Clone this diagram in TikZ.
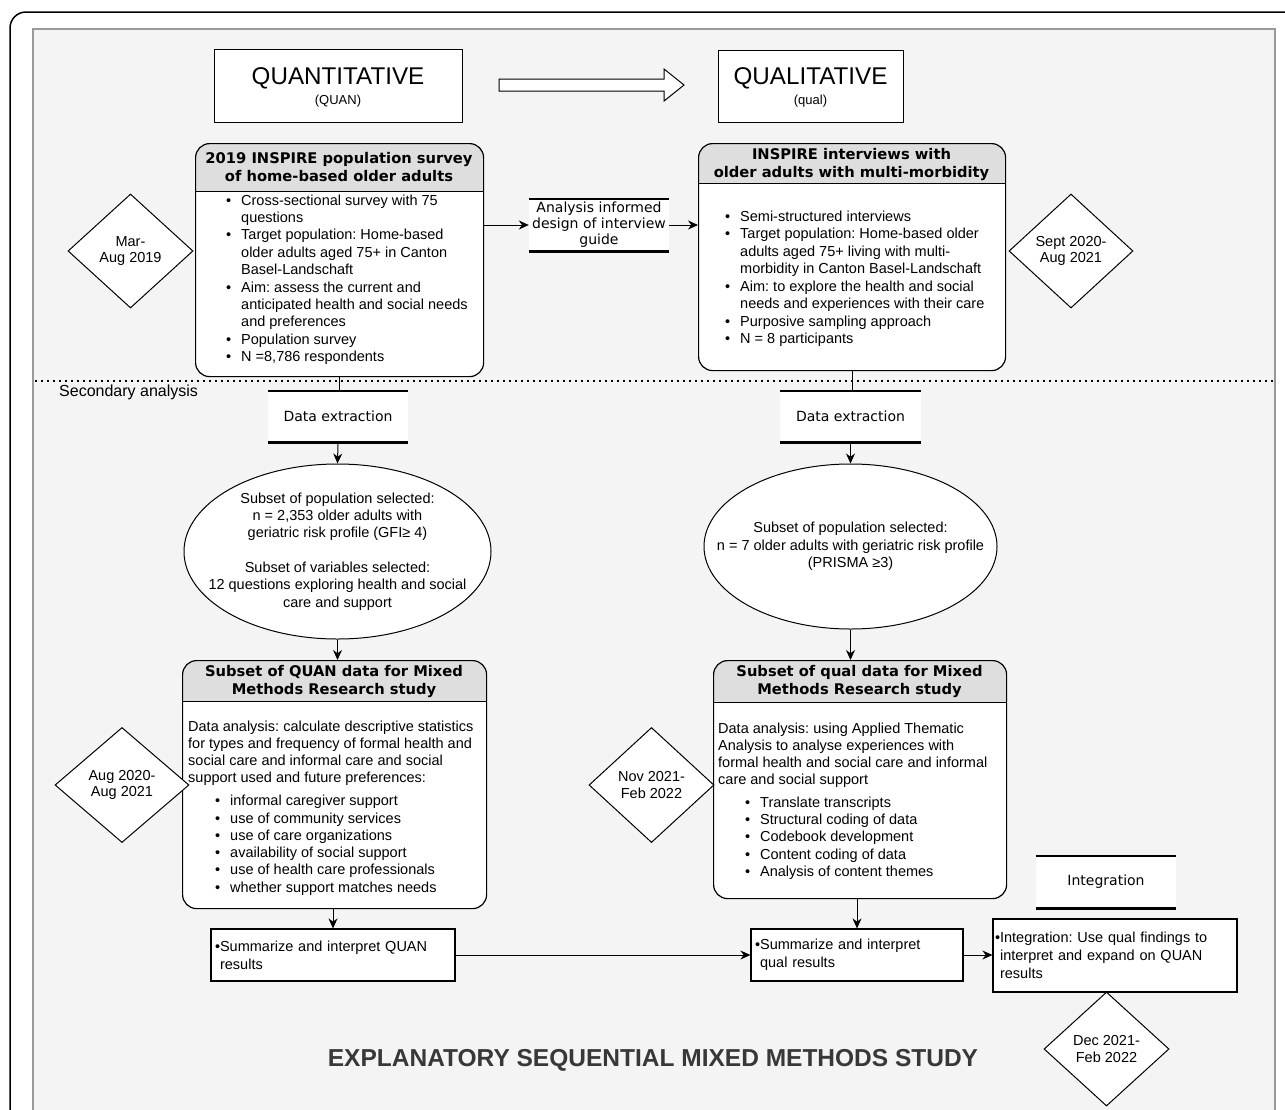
\documentclass[tikz,border=0pt]{standalone}
\usepackage{fontspec}
\setmainfont{Liberation Sans}
\newfontfamily\dvsans{DejaVu Sans}
\usetikzlibrary{shapes.geometric,arrows.meta}
\frenchspacing

\definecolor{panelgrey}{HTML}{F4F4F4}
\definecolor{edgegrey}{HTML}{999999}
\definecolor{headgrey}{HTML}{DEDEDE}
\definecolor{studygrey}{HTML}{383838}

\newcommand\bl{\makebox[15pt][l]{\textbullet}}
\newcommand\cl{\makebox[15pt]{}}
\newcommand\ind{\makebox[27pt]{}}
\newcommand\hb{\phantom{\textbullet}}

\tikzset{
  %% lists are placed by the baseline of their last line
  body/.style={font=\fontsize{14.5}{17.4}\selectfont, align=left,
    inner sep=0pt, anchor=base west},
  titlebox/.style={draw, fill=white, line width=1pt, inner sep=0pt},
  card/.style={draw, fill=white, line width=1.2pt, rounded corners=14pt,
    inner sep=0pt, anchor=north west},
  cardhead/.style={path picture={
      \fill[headgrey, sharp corners] (path picture bounding box.north west)
        rectangle ([yshift=-#1]path picture bounding box.north east);
      \draw[line width=1.2pt, sharp corners]
        ([yshift=-#1]path picture bounding box.north west)
        -- ([yshift=-#1]path picture bounding box.north east);}},
  headtext/.style={font=\dvsans\bfseries\fontsize{14.7}{18}\selectfont,
    align=center, inner sep=0pt},
  datebox/.style={diamond, draw, fill=white, line width=1pt, inner sep=0pt,
    align=center, font=\fontsize{14.5}{16.8}\selectfont},
  stepbox/.style={fill=white, inner sep=0pt, align=center,
    font=\dvsans\fontsize{14}{16}\selectfont},
  steprule/.style={line width=2.6pt},
  popbox/.style={ellipse, draw, fill=white, line width=1pt, inner sep=0pt},
  poptext/.style={align=center, inner sep=0pt, font=\fontsize{14.5}{17.3}\selectfont},
  sumbox/.style={draw, fill=white, line width=1.2pt, inner ysep=0pt,
    align=left, font=\fontsize{14.5}{17.8}\selectfont},
  flow/.style={-{Stealth[length=10pt,width=9pt]}, line width=1pt},
}

\begin{document}
\begin{tikzpicture}[x=1pt,y=-1pt]

  \useasboundingbox (0,0) rectangle (1285,1109);
  \clip (0,0) rectangle (1285,1109);
  \fill[white] (0,0) rectangle (1285,1109);

  %% frame and panel
  \draw[line width=1.5pt, rounded corners=16pt] (10,12) rectangle (1310,1140);
  \draw[fill=panelgrey, draw=edgegrey, line width=1.5pt] (33,29) rectangle (1275,1140);

  %% phase titles
  \node[titlebox, minimum width=248pt, minimum height=73pt] (quan) at (338,85.5) {};
  \node[font=\fontsize{24.2}{28}\selectfont] (quanname) at (338,78) {QUANTITATIVE};
  \node[font=\fontsize{13}{15}\selectfont] (quanshort) at (338,101) {(QUAN)};

  \node[titlebox, minimum width=185pt, minimum height=72pt] (qual) at (810.5,86) {};
  \node[font=\fontsize{24.2}{28}\selectfont] (qualname) at (810.5,78) {QUALITATIVE};
  \node[font=\fontsize{13}{15}\selectfont] (qualshort) at (810.5,101) {(qual)};

  \draw[fill=white, line width=1pt] (499,79) -- (664,79) -- (664,69) -- (684,85)
    -- (664,101) -- (664,91) -- (499,91) -- cycle;

  %% primary studies
  \node[card, cardhead=48pt, minimum width=288pt, minimum height=233pt]
    (survey) at (195,143) {};
  \node[headtext] (surveyhead) at (339,167)
    {2019 INSPIRE population survey\\of home-based older adults};
  \node[body] (surveylist) at (226,361.6) {\bl Cross-sectional survey with 75\\
    \cl questions\\
    \bl Target population: Home-based\\
    \cl older adults aged 75+ in Canton\\
    \cl Basel-Landschaft\\
    \bl Aim: assess the current and\\
    \cl anticipated health and social needs\\
    \cl and preferences\\
    \bl Population survey\\
    \bl N =8,786 respondents};

  \node[card, cardhead=40pt, minimum width=307pt, minimum height=227pt]
    (interv) at (698,143) {};
  \node[headtext] (intervhead) at (851.5,164)
    {INSPIRE interviews with\\older adults with multi-morbidity};
  \node[body, font=\fontsize{14.5}{17.55}\selectfont] (intervlist) at (725,343.9)
    {\bl Semi-structured interviews\\
    \bl Target population: Home-based older\\
    \cl adults aged 75+ living with multi-\\
    \cl morbidity in Canton Basel-Landschaft\\
    \bl Aim: to explore the health and social\\
    \cl needs and experiences with their care\\
    \bl Purposive sampling approach\\
    \bl N = 8 participants};

  \node[stepbox, minimum width=140pt, minimum height=52pt] (guide) at (599,225)
    {Analysis informed\\design of interview\\guide};
  \draw[steprule] (guide.north west) -- (guide.north east)
    (guide.south west) -- (guide.south east);
  \draw[flow] (survey.east |- guide.west) -- (guide.west);
  \draw[flow] (guide.east) -- (interv.west |- guide.east);

  %% secondary analysis
  \draw[line width=1.6pt, dash pattern=on 1.6pt off 4.4pt] (35,381) -- (1273,381);
  \node[anchor=west, inner sep=0pt, font=\fontsize{16}{19}\selectfont]
    (secondary) at (59,392) {Secondary analysis};

  \node[stepbox, minimum width=140pt, minimum height=51pt] (extractL) at (338,416.5)
    {Data extraction};
  \node[stepbox, minimum width=141pt, minimum height=51pt] (extractR) at (850.5,416.5)
    {Data extraction};
  \draw[steprule] (extractL.north west) -- (extractL.north east)
    (extractL.south west) -- (extractL.south east)
    (extractR.north west) -- (extractR.north east)
    (extractR.south west) -- (extractR.south east);
  \draw[line width=1pt] (survey.south) -- (survey.south |- extractL.north);
  \draw[line width=1pt] (interv.south) -- (interv.south |- extractR.north);

  \node[popbox, minimum width=307pt, minimum height=175pt] (popL) at (337.5,551.5) {};
  \node[poptext] (popLtext) at (popL.center)
    {Subset of population selected:\\n = 2,353 older adults with\\
     geriatric risk profile (GFI≥ 4)\\[17.3pt]Subset of variables selected:\\
     12 questions exploring health and social\\care and support};
  \node[popbox, minimum width=293pt, minimum height=165pt] (popR) at (850.5,546.5) {};
  \node[poptext] (popRtext) at (popR.center)
    {Subset of population selected:\\
     n = 7 older adults with geriatric risk profile\\(PRISMA ≥3)};
  \draw[flow] (extractL.south) -- (popL.north);
  \draw[flow] (extractR.south) -- (popR.north);

  %% mixed methods subsets
  \node[card, cardhead=41pt, minimum width=304pt, minimum height=248pt]
    (quansub) at (182,660) {};
  \node[headtext] (quansubhead) at (334,681.5)
    {Subset of QUAN data for Mixed\\Methods Research study};
  \node[body, font=\fontsize{14.5}{17.3}\selectfont] (quansublist) at (188,892.2)
    {Data analysis: calculate descriptive statistics\\
    for types and frequency of formal health and\\
    social care and informal care and social\\
    support used and future preferences:\\[5.5pt]
    \ind\bl informal caregiver support\\
    \ind\bl use of community services\\
    \ind\bl use of care organizations\\
    \ind\bl availability of social support\\
    \ind\bl use of health care professionals\\
    \ind\bl whether support matches needs};

  \node[card, cardhead=42pt, minimum width=293pt, minimum height=238pt]
    (qualsub) at (713,660) {};
  \node[headtext] (qualsubhead) at (859.5,681)
    {Subset of qual data for Mixed\\Methods Research study};
  \node[body, font=\fontsize{14.5}{17.3}\selectfont] (qualsublist) at (718,876.4)
    {Data analysis: using Applied Thematic\\
    Analysis to analyse experiences with\\
    formal health and social care and informal\\
    care and social support\\[5pt]
    \ind\bl Translate transcripts\\
    \ind\bl Structural coding of data\\
    \ind\bl Codebook development\\
    \ind\bl Content coding of data\\
    \ind\bl Analysis of content themes};

  \draw[flow] (popL.south) -- (popL.south |- quansub.north);
  \draw[flow] (popR.south) -- (popR.south |- qualsub.north);

  %% results and integration
  \node[sumbox, inner xsep=4pt, text width=236pt, minimum height=52pt]
    (sumquan) at (333,955) {\textbullet Summarize and interpret QUAN\\\hb results};
  \node[sumbox, inner xsep=4pt, text width=204pt, minimum height=52pt]
    (sumqual) at (857,955) {\textbullet Summarize and interpret\\\hb qual results};
  \node[stepbox, minimum width=140pt, minimum height=52pt] (integhead) at (1106,882)
    {Integration};
  \draw[steprule] (integhead.north west) -- (integhead.north east)
    (integhead.south west) -- (integhead.south east);
  \node[sumbox, inner xsep=2pt, text width=240pt, minimum height=73pt]
    (integ) at (1115,955.5) {\textbullet Integration: Use qual findings to\\
    \hb interpret and expand on QUAN\\\hb results};

  \draw[flow] (sumquan.north |- quansub.south) -- (sumquan.north);
  \draw[flow] (sumqual.north |- qualsub.south) -- (sumqual.north);
  \draw[flow] (sumquan.east) -- (sumqual.west);
  \draw[flow] (sumqual.east) -- (integ.west |- sumqual.east);

  %% time frames
  \node[datebox, minimum width=125pt, minimum height=114pt] (whenA) at (130.5,251)
    {Mar-\\Aug 2019};
  \node[datebox, minimum width=124pt, minimum height=114pt] (whenB) at (1071,251)
    {Sept 2020-\\Aug 2021};
  \node[datebox, minimum width=134pt, minimum height=115pt] (whenC) at (122,785)
    {Aug 2020-\\Aug 2021};
  \node[datebox, minimum width=125pt, minimum height=115pt] (whenD) at (651.5,785)
    {Nov 2021-\\Feb 2022};
  \node[datebox, minimum width=125pt, minimum height=114pt] (whenE) at (1106.5,1049)
    {Dec 2021-\\Feb 2022};

  \node[font=\bfseries\fontsize{24.5}{28}\selectfont, text=studygrey] (study)
    at (653,1060) {EXPLANATORY SEQUENTIAL MIXED METHODS STUDY};

\end{tikzpicture}
\end{document}
